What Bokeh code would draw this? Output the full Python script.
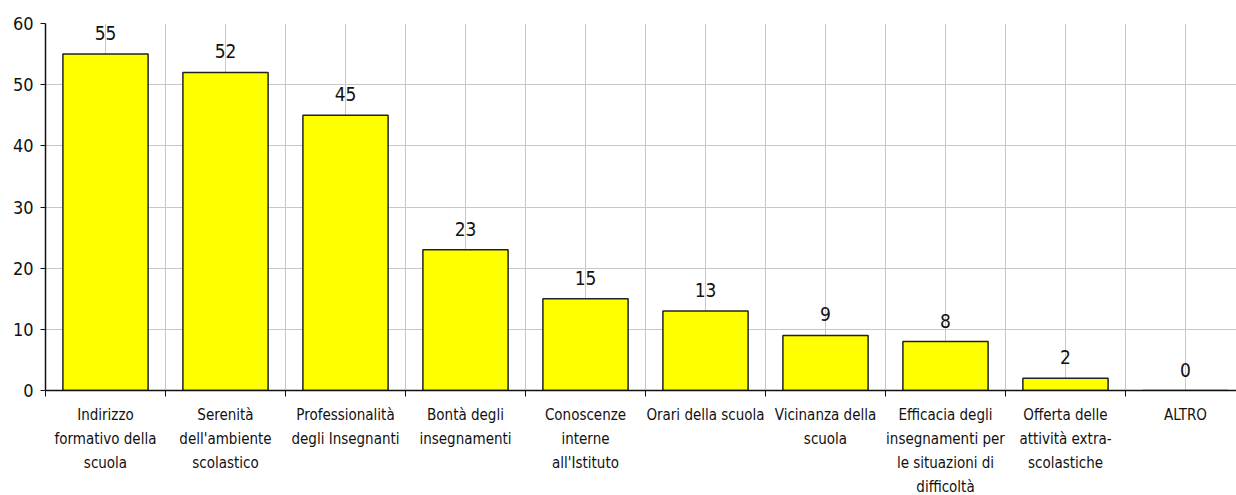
from bokeh.plotting import figure
from bokeh.models import Range1d, FixedTicker, ColumnDataSource
from bokeh.embed import file_html
from bokeh.resources import INLINE
from bokeh.core.properties import value

categories = [
    "Indirizzo\nformativo della\nscuola",
    "Serenità\ndell'ambiente\nscolastico",
    "Professionalità\ndegli Insegnanti",
    "Bontà degli\ninsegnamenti",
    "Conoscenze\ninterne\nall'Istituto",
    "Orari della scuola",
    "Vicinanza della\nscuola",
    "Efficacia degli\ninsegnamenti per\nle situazioni di\ndifficoltà",
    "Offerta delle\nattività extra-\nscolastiche",
    "ALTRO",
]
values = [55, 52, 45, 23, 15, 13, 9, 8, 2, 0]
y_ticks = [0, 10, 20, 30, 40, 50, 60]

n = len(categories)
centers = [i + 0.5 for i in range(n)]
bounds = [float(i) for i in range(n + 1)]

src = ColumnDataSource(dict(x=centers, top=values, lab=[str(v) for v in values]))

p = figure(frame_width=1191, frame_height=367, output_backend="svg", toolbar_location=None,
           x_range=Range1d(0, 1191 / 120), y_range=Range1d(0, 60),
           min_border_left=45, min_border_right=0, min_border_top=23, min_border_bottom=0)
p.outline_line_color = None

p.vbar(x="x", top="top", bottom=0, width=0.71, source=src,
       fill_color="#ffff00", line_color="#222222", line_width=1.5)
p.text(x="x", y="top", text="lab", source=src, text_align="center", text_baseline="bottom",
       y_offset=-14, text_font=value("DejaVu Sans Condensed"), text_font_size="19px",
       text_color="#111111")

xt = FixedTicker(ticks=centers, minor_ticks=bounds)
p.xaxis.ticker = xt
p.xaxis.major_label_overrides = {c: lab for c, lab in zip(centers, categories)}
p.xaxis.major_tick_line_color = None
p.xaxis.major_tick_out = 0
p.xaxis.major_tick_in = 0
p.xaxis.minor_tick_line_color = "#111111"
p.xaxis.minor_tick_out = 6
p.xaxis.minor_tick_in = 0
p.xaxis.major_label_standoff = 9
p.xaxis.major_label_text_font = "DejaVu Sans Condensed"
p.xaxis.major_label_text_font_size = "15px"
p.xaxis.major_label_text_line_height = 1.34
p.xaxis.major_label_text_color = "#111111"
p.xaxis.axis_line_color = "#111111"
p.xaxis.axis_line_width = 1.5

p.yaxis.ticker = FixedTicker(ticks=y_ticks)
p.yaxis.minor_tick_line_color = None
p.yaxis.major_tick_out = 5
p.yaxis.major_tick_in = 0
p.yaxis.major_tick_line_color = "#111111"
p.yaxis.major_label_standoff = 7
p.yaxis.major_label_text_font = "DejaVu Sans Condensed"
p.yaxis.major_label_text_font_size = "18px"
p.yaxis.major_label_text_color = "#111111"
p.yaxis.axis_line_color = "#111111"
p.yaxis.axis_line_width = 1.5

p.xgrid.grid_line_color = "#c8c8c8"
p.xgrid.minor_grid_line_color = "#c8c8c8"
p.ygrid.grid_line_color = "#c8c8c8"

open("out.html", "w").write(file_html(p, INLINE))
